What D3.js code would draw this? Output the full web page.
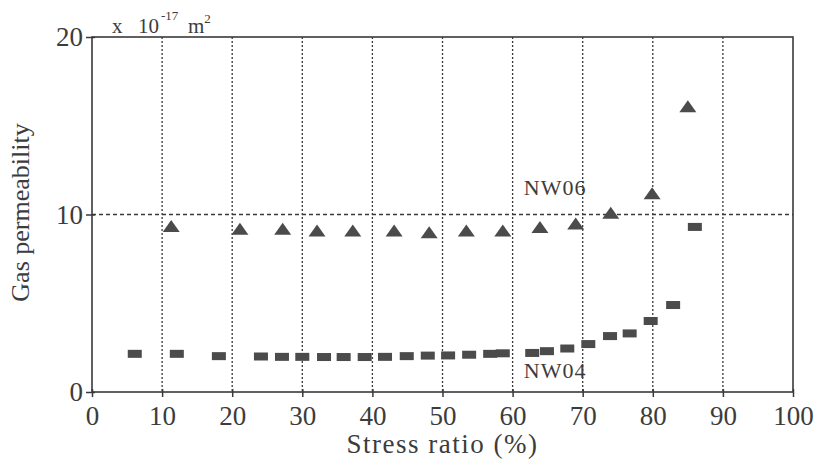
<!DOCTYPE html>
<html lang="en">
<head>
	<meta charset="UTF-8">
	<title>Gas permeability vs stress ratio</title>
	<script src="https://cdn.jsdelivr.net/npm/d3@7/dist/d3.min.js"></script>
	<style>
		body{ margin:0; background:#fff; }
		text{ font-family:"Times New Roman", "Liberation Serif", Tinos, Times, serif; fill:#3c3c3c; }
		.frame{ stroke:#3a3a3a; stroke-width:1.6; fill:none; }
		.grid-v{ stroke:#3a3a3a; stroke-width:1.3; stroke-dasharray:2,2; }
		.grid-h{ stroke:#3a3a3a; stroke-width:1.3; stroke-dasharray:4,3; }
		.mark{ fill:#4b4b4b; }
	</style>
</head>
<body>
<script type="text/javascript">

	// NW04 (squares)
	var nw04X = [6.1, 12.1, 18.1, 24.1, 27.1, 30.0, 33.1, 35.9, 38.9, 41.8, 44.9, 47.9, 50.8,
		53.8, 56.8, 58.6, 62.8, 64.9, 67.8, 70.8, 73.9, 76.7, 79.7, 82.9, 86.0];
	var nw04Y = [2.15, 2.15, 2.02, 2.0, 1.98, 1.98, 1.97, 1.97, 1.97, 1.98, 2.02, 2.05, 2.06,
		2.1, 2.15, 2.18, 2.2, 2.3, 2.45, 2.7, 3.15, 3.3, 4.0, 4.9, 9.3];

	// NW06 (triangles)
	var nw06X = [11.3, 21.1, 27.2, 32.1, 37.2, 43.1, 48.1, 53.4, 58.6, 63.9, 69.0, 74.0, 79.9, 85.0];
	var nw06Y = [9.35, 9.2, 9.2, 9.1, 9.1, 9.1, 9.0, 9.1, 9.1, 9.3, 9.5, 10.1, 11.2, 16.1];

	var xTicks = [0, 10, 20, 30, 40, 50, 60, 70, 80, 90, 100];
	var yTicks = [0, 10, 20];

	var serif = '"Times New Roman", "Liberation Serif", Tinos, Times, serif';

	var margin = {top: 37, right: 26, bottom: 69, left: 92};
	var width = 819 - margin.left - margin.right,
		height = 461 - margin.top - margin.bottom;

	var svg = d3.select('body').append('svg')
		.attr('width', 819)
		.attr('height', 461)
		.append('g')
		.attr('transform', 'translate(' + margin.left + ',' + margin.top + ')');

	var x = d3.scaleLinear().domain([0, 100]).range([0, width]);
	var y = d3.scaleLinear().domain([0, 20]).range([height, 0]);

	// grid
	svg.selectAll('.grid-v')
		.data(xTicks.slice(1, -1))
		.enter().append('line')
		.attr('class', 'grid-v')
		.attr('x1', function (d) { return x(d); })
		.attr('x2', function (d) { return x(d); })
		.attr('y1', 0)
		.attr('y2', height);

	svg.append('line')
		.attr('class', 'grid-h')
		.attr('x1', 0).attr('x2', width)
		.attr('y1', y(10)).attr('y2', y(10));

	// axes
	var xAxis = svg.append('g')
		.attr('transform', 'translate(0,' + height + ')')
		.call(d3.axisBottom(x).tickValues(xTicks).tickSize(5).tickPadding(9));
	xAxis.selectAll('.tick line').attr('y1', -3);

	var yAxis = svg.append('g')
		.call(d3.axisLeft(y).tickValues(yTicks).tickSize(6).tickPadding(3));
	yAxis.selectAll('.tick line').attr('x1', 3);

	svg.selectAll('.domain').remove();
	svg.selectAll('g').attr('font-family', null);
	svg.selectAll('.tick line').attr('stroke', '#3a3a3a').attr('stroke-width', 1.5);
	svg.selectAll('.tick text')
		.attr('fill', '#3c3c3c')
		.style('font-family', serif)
		.style('font-size', '27px');

	svg.append('rect')
		.attr('class', 'frame')
		.attr('x', 0).attr('y', 0)
		.attr('width', width).attr('height', height);

	// markers
	var nw04 = nw04X.map(function (d, i) { return [d, nw04Y[i]]; });
	var nw06 = nw06X.map(function (d, i) { return [d, nw06Y[i]]; });

	svg.selectAll('.sq')
		.data(nw04)
		.enter().append('rect')
		.attr('class', 'mark sq')
		.attr('x', function (d) { return x(d[0]) - 7; })
		.attr('y', function (d) { return y(d[1]) - 4; })
		.attr('width', 14)
		.attr('height', 8);

	svg.selectAll('.tri')
		.data(nw06)
		.enter().append('path')
		.attr('class', 'mark tri')
		.attr('d', function (d) {
			var cx = x(d[0]), cy = y(d[1]);
			return 'M' + (cx - 8.5) + ',' + (cy + 6) + 'L' + cx + ',' + (cy - 6) +
				'L' + (cx + 8.5) + ',' + (cy + 6) + 'Z';
		});

	// series labels
	svg.append('text')
		.attr('x', x(61.6)).attr('y', y(11.1))
		.style('font-size', '22px')
		.style('letter-spacing', '1px')
		.text('NW06');

	svg.append('text')
		.attr('x', x(61.6)).attr('y', y(0.79))
		.style('font-size', '22px')
		.style('letter-spacing', '1px')
		.text('NW04');

	// unit
	var unit = svg.append('text')
		.attr('y', -4)
		.style('font-size', '21px');
	unit.append('tspan').attr('x', 20).text('x');
	unit.append('tspan').attr('x', 46).text('10');
	unit.append('tspan').attr('x', 69).attr('dy', -13).style('font-size', '13px').text('-17');
	unit.append('tspan').attr('x', 96).attr('dy', 13).text('m');
	unit.append('tspan').attr('dy', -10).style('font-size', '13px').text('2');

	// axis titles
	svg.append('text')
		.attr('x', width / 2).attr('y', height + 61)
		.attr('text-anchor', 'middle')
		.style('font-size', '27px')
		.style('letter-spacing', '1.5px')
		.text('Stress ratio (%)');

	svg.append('text')
		.attr('transform', 'translate(' + (-63) + ',' + (height / 2 - 2) + ') rotate(-90)')
		.attr('text-anchor', 'middle')
		.style('font-size', '26px')
		.text('Gas permeability');

</script>
</body>
</html>
